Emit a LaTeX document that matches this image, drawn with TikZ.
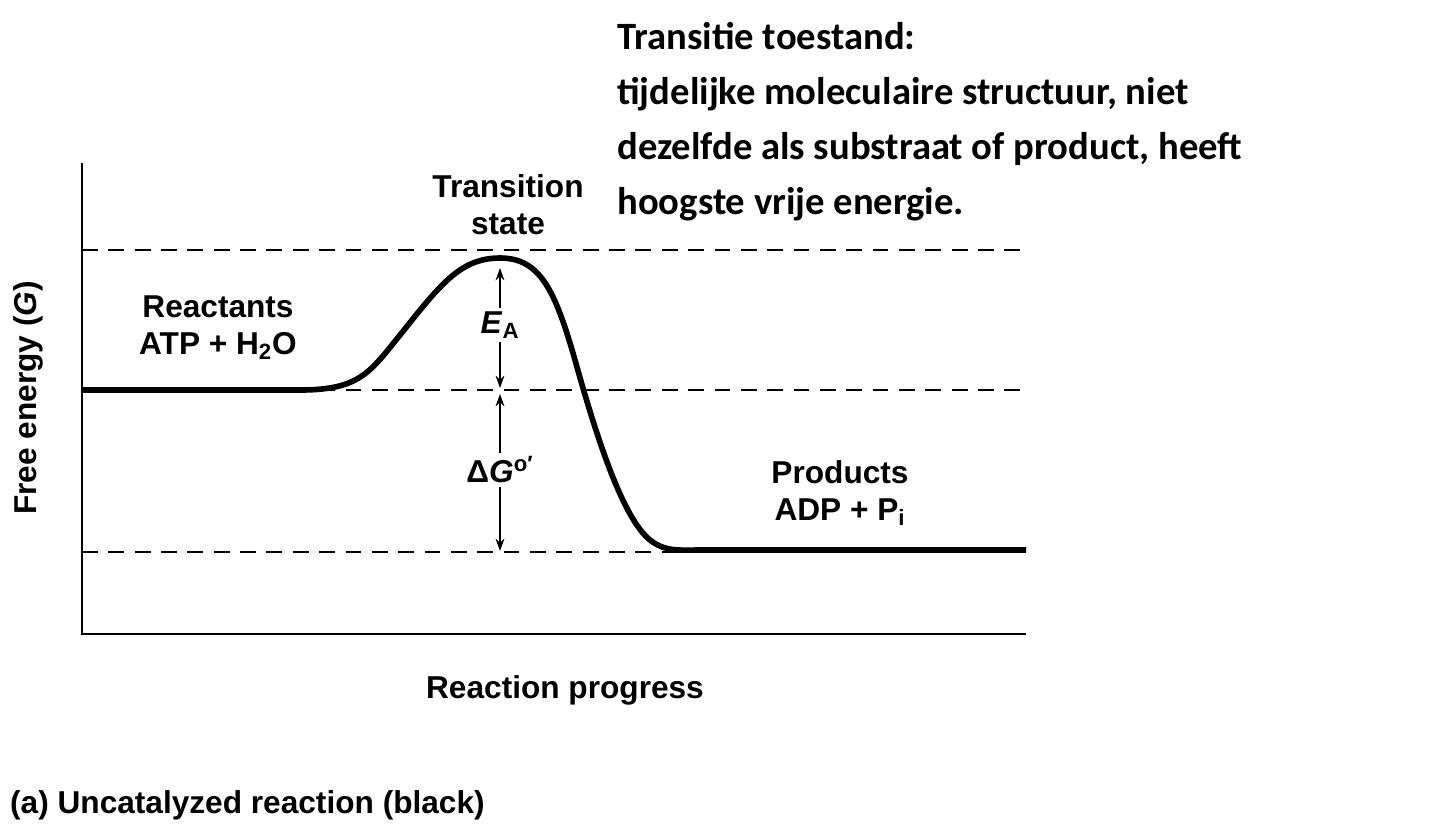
\documentclass[tikz,border=0pt]{standalone}
\usepackage{fontspec}
\setmainfont{Liberation Sans}
\newfontfamily\carl{Carlito}
\usetikzlibrary{arrows.meta}
\begin{document}
\begin{tikzpicture}[x=0.02cm,y=-0.02cm,
  lbl/.style={font=\fontsize{18}{21}\selectfont\bfseries,align=center},
  dashline/.style={line width=1.3pt,dash pattern=on 9pt off 6pt},
  ax/.style={line width=1.3pt},
  arr/.style={line width=1pt,-{Stealth[length=7pt,width=5pt]}}]
\useasboundingbox (0,0) rectangle (1440,826);
% axes
\coordinate (O) at (82,634);
\coordinate (Ytop) at (82,163);
\coordinate (Xend) at (1026,634);
\draw[ax] (Ytop) -- (O) -- (Xend);
% dashed levels
\coordinate (t1) at (82,250); \coordinate (t2) at (1026,250);
\coordinate (m1) at (82,390); \coordinate (m2) at (1026,390);
\coordinate (b1) at (82,552); \coordinate (b2) at (1026,552);
\draw[dashline] (t1) -- (t2);
\draw[dashline] (m1) -- (m2);
\draw[dashline] (b1) -- (b2);
% curve
\coordinate (peak) at (500,258);
\draw[line width=3.2pt] (82,390) -- (300,390)
  .. controls (360,390) and (370,372) .. (400,335)
  .. controls (440,285) and (460,258) .. (peak)
  .. controls (540,258) and (555,290) .. (575,360)
  .. controls (600,450) and (625,520) .. (650,540)
  .. controls (665,552) and (680,550) .. (700,550)
  -- (1026,550);
% arrows
\coordinate (ea1) at (500,268); \coordinate (ea2) at (500,388);
\coordinate (dg1) at (500,394); \coordinate (dg2) at (500,551);
\node[lbl,fill=white,inner sep=2pt] (EA) at (500,325) {\textit{E}\textsubscript{A}};
\node[lbl,fill=white,inner sep=2pt] (DG) at (500,470) {Δ\textit{G}\textsuperscript{o′}};
\draw[arr] (EA.north) -- (ea1);
\draw[arr] (EA.south) -- (ea2);
\draw[arr] (DG.north) -- (dg1);
\draw[arr] (DG.south) -- (dg2);
% labels
\node[lbl] (ts) at (508,205) {Transition\\state};
\node[lbl] (re) at (218,328) {Reactants\\ATP + H\textsubscript{2}O};
\node[lbl] (pr) at (840,493) {Products\\ADP + P\textsubscript{i}};
\node[lbl,rotate=90] (ya) at (28,398) {Free energy (\textit{G})};
\node[lbl] (xa) at (565,690) {Reaction progress};
\node[lbl,anchor=west] (cap) at (4,805) {(a) Uncatalyzed reaction (black)};
\node[anchor=north west,align=left,font=\carl\fontsize{22}{31.3}\selectfont\bfseries,inner sep=0pt] (note) at (617,22)
{Transitie toestand:\\tijdelijke moleculaire structuur, niet\\dezelfde als substraat of product, heeft\\hoogste vrije energie.};
\end{tikzpicture}
\end{document}
